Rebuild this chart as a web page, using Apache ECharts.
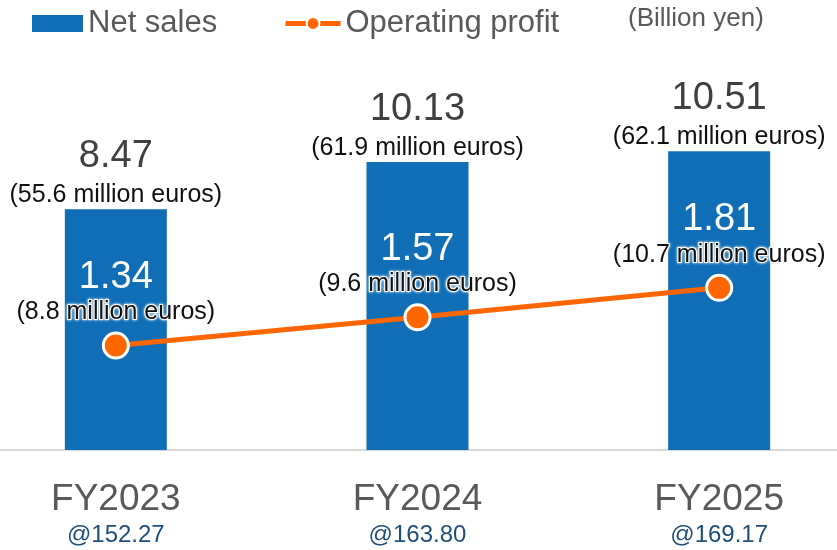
<!DOCTYPE html>
<html>
<head>
<meta charset="utf-8">
<script src="https://cdn.jsdelivr.net/npm/echarts@6/dist/echarts.min.js"></script>
<style>
  html, body { margin: 0; padding: 0; background: #fff; }
  #chart { width: 837px; height: 550px; }
</style>
</head>
<body>
<div id="chart"></div>
<script>
// data
const categories = ['FY2023', 'FY2024', 'FY2025'];
const rates = ['@152.27', '@163.80', '@169.17'];
const netSales = [8.47, 10.13, 10.51];        // billion yen
const netSalesEur = [55.6, 61.9, 62.1];       // million euros
const opProfit = [1.34, 1.57, 1.81];          // billion yen
const opProfitEur = [8.8, 9.6, 10.7];         // million euros

const FONT = '"Liberation Sans", Arial, sans-serif';
const BLUE = '#0F6EB6';
const ORANGE = '#FF6600';

const chart = echarts.init(document.getElementById('chart'));

chart.setOption({
  backgroundColor: '#fff',
  animation: false,
  textStyle: { fontFamily: FONT },
  legend: [{
    data: ['Net sales'],
    left: 27,
    top: 3,
    icon: 'rect',
    itemWidth: 51,
    itemHeight: 17,
    textStyle: { fontSize: 31, color: '#595959', fontFamily: FONT }
  }, {
    data: ['Operating profit'],
    left: 278,
    top: 3,
    itemWidth: 55,
    itemHeight: 16,
    lineStyle: { width: 5 },
    itemStyle: { borderWidth: 2, borderColor: '#fff' },
    textStyle: { fontSize: 31, color: '#595959', fontFamily: FONT }
  }],
  graphic: [{
    type: 'text',
    left: 628,
    top: 6,
    style: {
      text: '(Billion yen)',
      font: '26px ' + FONT,
      fill: '#595959'
    }
  }],
  grid: { left: -35, right: -33, top: 52, bottom: 100, outerBoundsMode: 'none' },
  xAxis: {
    type: 'category',
    data: categories,
    axisTick: { show: false },
    axisLine: { lineStyle: { color: '#D9D9D9', width: 2 } },
    axisLabel: {
      margin: 30,
      formatter: function (val, idx) {
        return '{a|' + val + '}\n{b|' + rates[idx] + '}';
      },
      rich: {
        a: { fontSize: 37, lineHeight: 40, color: '#595959', fontFamily: FONT },
        b: { fontSize: 24, lineHeight: 30, color: '#1F4E79', fontFamily: FONT }
      }
    }
  },
  yAxis: [
    { type: 'value', min: 0, max: 14, show: false },
    { type: 'value', min: 0.49, max: 3.73, show: false }
  ],
  series: [{
    name: 'Net sales',
    type: 'bar',
    barWidth: 102,
    data: netSales,
    itemStyle: { color: BLUE },
    label: {
      show: true,
      position: 'top',
      distance: 1,
      formatter: function (p) {
        return '{a|' + p.value.toFixed(2) + '}\n{b|(' + netSalesEur[p.dataIndex].toFixed(1) + ' million euros)}';
      },
      rich: {
        a: { fontSize: 38, lineHeight: 52, color: '#404040', fontFamily: FONT },
        b: { fontSize: 25, lineHeight: 26, color: '#111', fontFamily: FONT }
      }
    }
  }, {
    name: 'Operating profit',
    type: 'line',
    yAxisIndex: 1,
    data: opProfit,
    symbol: 'circle',
    symbolSize: 25,
    lineStyle: { color: ORANGE, width: 5 },
    itemStyle: { color: ORANGE, borderColor: '#fff', borderWidth: 3 },
    z: 3,
    label: {
      show: true,
      position: 'top',
      distance: 6,
      formatter: function (p) {
        return '{a|' + p.value.toFixed(2) + '}\n{b|(' + opProfitEur[p.dataIndex].toFixed(1) + ' million euros)}';
      },
      rich: {
        a: { fontSize: 38, lineHeight: 44, color: '#fff', fontFamily: FONT },
        b: {
          fontSize: 25, lineHeight: 26, color: '#111', fontFamily: FONT,
          textBorderColor: '#fff', textBorderWidth: 2,
          textShadowColor: '#fff', textShadowBlur: 3
        }
      }
    }
  }]
});
</script>
</body>
</html>
